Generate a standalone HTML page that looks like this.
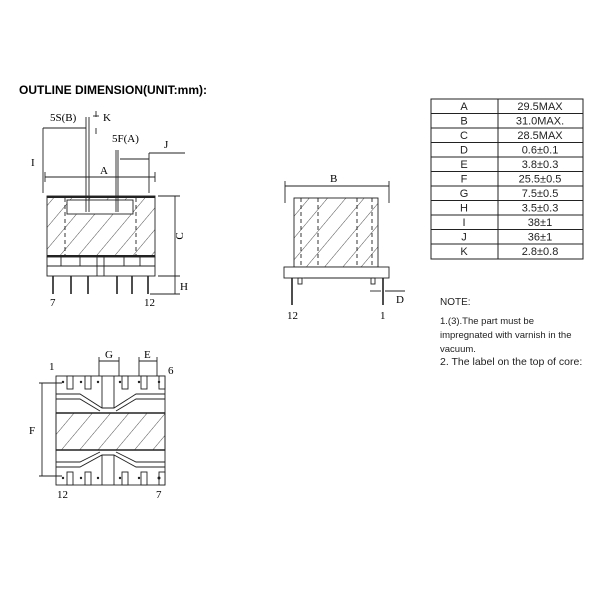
<!DOCTYPE html>
<html><head><meta charset="utf-8"><style>
body{margin:0;background:#fff;width:600px;height:600px;overflow:hidden}
svg{display:block}
.s{font-family:"Liberation Serif",serif;font-size:11px}
.a{font-family:"Liberation Sans",sans-serif}
</style></head><body>
<svg width="600" height="600" viewBox="0 0 600 600" xmlns="http://www.w3.org/2000/svg">
<defs>
<pattern id="h" patternUnits="userSpaceOnUse" width="14" height="14" patternTransform="rotate(40)">
<line x1="0" y1="0" x2="0" y2="14" stroke="#222" stroke-width="0.8"/></pattern>
</defs>
<text x="19" y="94" class="a" font-size="12" font-weight="bold">OUTLINE DIMENSION(UNIT:mm):</text>

<!-- Front view -->
<g stroke="#222" fill="none" stroke-width="0.9">
<rect x="47" y="196" width="108" height="61" fill="url(#h)"/>
<line x1="47" y1="197" x2="155" y2="197" stroke-width="2"/>
<line x1="47" y1="256" x2="155" y2="256" stroke-width="2"/>
<rect x="67" y="200" width="66" height="14" fill="#fff"/>
<rect x="47" y="257" width="108" height="19" fill="#fff"/>
<line x1="47" y1="266" x2="155" y2="266"/>
<line x1="65" y1="198" x2="65" y2="257" stroke-dasharray="4,3"/>
<line x1="136" y1="198" x2="136" y2="257" stroke-dasharray="4,3"/>
<line x1="61" y1="257" x2="61" y2="266"/><line x1="80" y1="257" x2="80" y2="266"/><line x1="97" y1="257" x2="97" y2="276"/><line x1="104" y1="257" x2="104" y2="276"/><line x1="124" y1="257" x2="124" y2="266"/><line x1="140" y1="257" x2="140" y2="266"/>
<g stroke-width="1.6"><line x1="53" y1="276" x2="53" y2="294"/><line x1="71" y1="276" x2="71" y2="294"/><line x1="88" y1="276" x2="88" y2="294"/><line x1="117" y1="276" x2="117" y2="294"/><line x1="132" y1="276" x2="132" y2="294"/><line x1="148" y1="276" x2="148" y2="294"/></g>
<line x1="86" y1="117" x2="86" y2="212"/><line x1="89" y1="117" x2="89" y2="212"/>
<line x1="116" y1="150" x2="116" y2="212"/><line x1="118" y1="150" x2="118" y2="212"/>
<line x1="43" y1="128" x2="86" y2="128"/><line x1="43" y1="128" x2="43" y2="193"/>
<line x1="45" y1="177" x2="155" y2="177"/><line x1="45" y1="172" x2="45" y2="182"/><line x1="155" y1="172" x2="155" y2="182"/>
<line x1="120" y1="159" x2="149" y2="159"/><line x1="149" y1="153" x2="149" y2="193"/><line x1="149" y1="153" x2="185" y2="153"/>
<line x1="96" y1="111" x2="96" y2="117"/><line x1="93" y1="116" x2="99" y2="116"/><line x1="96" y1="128" x2="96" y2="134"/>
<line x1="158" y1="196" x2="180" y2="196"/><line x1="175" y1="196" x2="175" y2="294"/><line x1="158" y1="276" x2="180" y2="276"/><line x1="150" y1="294" x2="180" y2="294"/>
</g>
<text x="50" y="121" class="s">5S(B)</text><text x="103" y="121" class="s">K</text>
<text x="112" y="142" class="s">5F(A)</text><text x="164" y="148" class="s">J</text>
<text x="31" y="166" class="s">I</text><text x="100" y="174" class="s">A</text>
<text x="183" y="236" class="s" transform="rotate(-90 183 236)" text-anchor="middle">C</text>
<text x="180" y="290" class="s">H</text><text x="50" y="306" class="s">7</text><text x="144" y="306" class="s">12</text>

<!-- Side view -->
<g stroke="#222" fill="none" stroke-width="0.9">
<rect x="294" y="198" width="84" height="69" fill="url(#h)"/>
<line x1="301" y1="198" x2="301" y2="267" stroke-dasharray="4,3"/><line x1="318" y1="198" x2="318" y2="267" stroke-dasharray="4,3"/>
<line x1="357" y1="198" x2="357" y2="267" stroke-dasharray="4,3"/><line x1="372" y1="198" x2="372" y2="267" stroke-dasharray="4,3"/>
<rect x="284" y="267" width="105" height="11" fill="#fff"/>
<line x1="304" y1="278" x2="370" y2="278"/>
<rect x="298" y="278" width="4" height="6"/><rect x="371" y="278" width="4" height="6"/>
<line x1="292" y1="278" x2="292" y2="305" stroke-width="1.6"/><line x1="383" y1="278" x2="383" y2="305" stroke-width="1.6"/>
<line x1="285" y1="186" x2="389" y2="186"/><line x1="285" y1="181" x2="285" y2="203"/><line x1="389" y1="181" x2="389" y2="203"/>
<line x1="370" y1="291" x2="381" y2="291"/><line x1="385" y1="291" x2="405" y2="291"/>
</g>
<text x="330" y="182" class="s">B</text><text x="396" y="303" class="s">D</text>
<text x="287" y="319" class="s">12</text><text x="380" y="319" class="s">1</text>

<!-- Bottom view -->
<g stroke="#222" fill="none" stroke-width="0.9">
<rect x="56" y="376" width="109" height="109"/>
<rect x="56" y="413" width="109" height="37" fill="url(#h)"/>
<line x1="56" y1="413" x2="165" y2="413" stroke-width="1.4"/><line x1="56" y1="450" x2="165" y2="450" stroke-width="1.4"/>
<path d="M56 394 H80 L102 408 H114 L136 394 H165"/><path d="M56 399 H80 L100 411 M116 411 L136 399 H165"/>
<path d="M56 467 H80 L102 455 H114 L136 467 H165"/><path d="M56 462 H80 L100 452 M116 452 L136 462 H165"/>
<line x1="102" y1="376" x2="102" y2="408"/><line x1="114" y1="376" x2="114" y2="408"/>
<line x1="102" y1="485" x2="102" y2="455"/><line x1="114" y1="485" x2="114" y2="455"/>
<g fill="#fff">
<rect x="67" y="376" width="6" height="13"/><rect x="85" y="376" width="6" height="13"/><rect x="122" y="376" width="6" height="13"/><rect x="141" y="376" width="6" height="13"/><rect x="159" y="376" width="6" height="13"/>
<rect x="67" y="472" width="6" height="13"/><rect x="85" y="472" width="6" height="13"/><rect x="122" y="472" width="6" height="13"/><rect x="141" y="472" width="6" height="13"/><rect x="159" y="472" width="6" height="13"/>
</g>
<line x1="39" y1="383" x2="62" y2="383"/><line x1="39" y1="476" x2="62" y2="476"/><line x1="42" y1="383" x2="42" y2="476"/>
<line x1="99" y1="357" x2="99" y2="376"/><line x1="119" y1="357" x2="119" y2="376"/><line x1="99" y1="361" x2="119" y2="361"/>
<line x1="139" y1="357" x2="139" y2="376"/><line x1="157" y1="357" x2="157" y2="376"/><line x1="139" y1="361" x2="157" y2="361"/>
</g>
<g fill="#222">
<circle cx="63" cy="382" r="1.2"/><circle cx="81" cy="382" r="1.2"/><circle cx="98" cy="382" r="1.2"/><circle cx="120" cy="382" r="1.2"/><circle cx="139" cy="382" r="1.2"/><circle cx="159" cy="382" r="1.2"/>
<circle cx="63" cy="478" r="1.2"/><circle cx="81" cy="478" r="1.2"/><circle cx="98" cy="478" r="1.2"/><circle cx="120" cy="478" r="1.2"/><circle cx="139" cy="478" r="1.2"/><circle cx="159" cy="478" r="1.5"/>
</g>
<text x="105" y="358" class="s">G</text><text x="144" y="358" class="s">E</text>
<text x="49" y="370" class="s">1</text><text x="168" y="374" class="s">6</text>
<text x="29" y="434" class="s">F</text><text x="57" y="498" class="s">12</text><text x="156" y="498" class="s">7</text>

<!-- Table -->
<g stroke="#222" stroke-width="1" fill="none">
<rect x="431" y="99" width="152" height="160"/>
<line x1="498" y1="99" x2="498" y2="259"/>
<line x1="431" y1="113.5" x2="583" y2="113.5"/><line x1="431" y1="128" x2="583" y2="128"/><line x1="431" y1="142.5" x2="583" y2="142.5"/><line x1="431" y1="157" x2="583" y2="157"/><line x1="431" y1="171.5" x2="583" y2="171.5"/><line x1="431" y1="186" x2="583" y2="186"/><line x1="431" y1="200.5" x2="583" y2="200.5"/><line x1="431" y1="215" x2="583" y2="215"/><line x1="431" y1="229.5" x2="583" y2="229.5"/><line x1="431" y1="244" x2="583" y2="244"/>
</g>
<g class="a" font-size="11" text-anchor="middle" fill="#222">
<text x="464" y="110">A</text><text x="540" y="110">29.5MAX</text>
<text x="464" y="124.5">B</text><text x="540" y="124.5">31.0MAX.</text>
<text x="464" y="139">C</text><text x="540" y="139">28.5MAX</text>
<text x="464" y="153.5">D</text><text x="540" y="153.5">0.6±0.1</text>
<text x="464" y="168">E</text><text x="540" y="168">3.8±0.3</text>
<text x="464" y="182.5">F</text><text x="540" y="182.5">25.5±0.5</text>
<text x="464" y="197">G</text><text x="540" y="197">7.5±0.5</text>
<text x="464" y="211.5">H</text><text x="540" y="211.5">3.5±0.3</text>
<text x="464" y="226">I</text><text x="540" y="226">38±1</text>
<text x="464" y="240.5">J</text><text x="540" y="240.5">36±1</text>
<text x="464" y="255">K</text><text x="540" y="255">2.8±0.8</text>
</g>
<g class="a" fill="#222">
<text x="440" y="305" font-size="10">NOTE:</text>
<text x="440" y="324" font-size="9.5">1.(3).The part must be</text>
<text x="440" y="338" font-size="9.5">impregnated with varnish in  the</text>
<text x="440" y="352" font-size="9.5">vacuum.</text>
<text x="440" y="365" font-size="10.5">2. The label on the top of core:</text>
</g>
</svg>
</body></html>
